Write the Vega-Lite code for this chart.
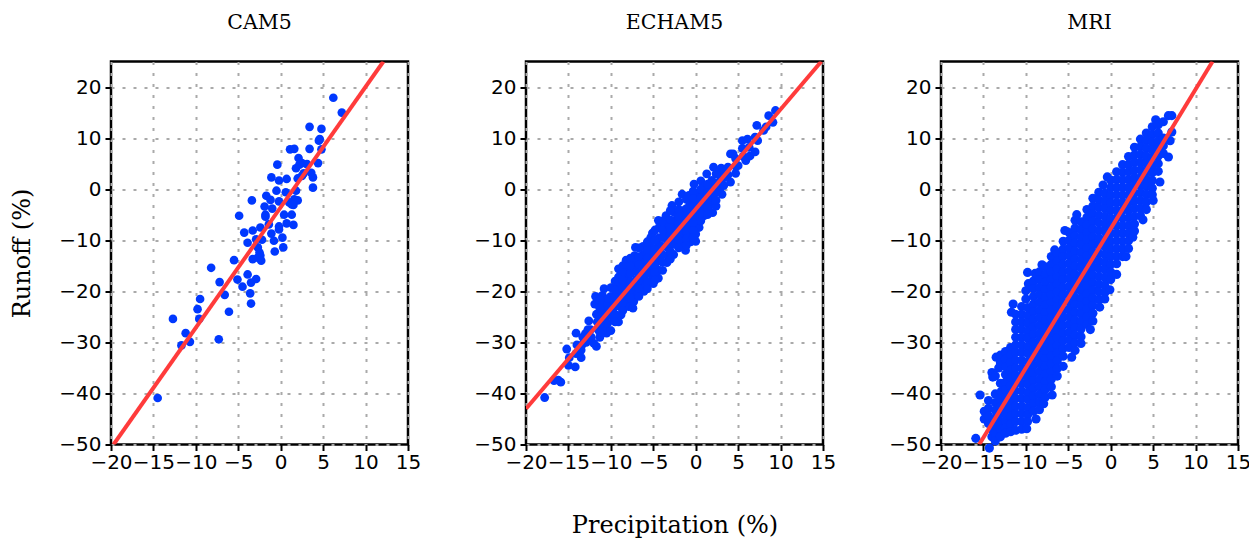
{"$schema":"https://vega.github.io/schema/vega-lite/v6.json","padding":{"left":9,"top":11.5,"right":0,"bottom":0},"bounds":"flush","spacing":118,
"config":{"view":{"stroke":"#000","strokeWidth":2.5},"title":{"font":"DejaVu Serif","fontSize":20.5,"fontWeight":"normal","color":"#000","offset":28},
"axisX":{"labelPadding":2},"axisY":{"labelPadding":4},
"axis":{"grid":true,"gridColor":"#aaa","gridDash":[3,8],"gridWidth":2,"domain":false,"tickColor":"#000","tickWidth":2,"tickSize":6,"labelFont":"DejaVu Sans","labelFontSize":20,"labelFontWeight":"normal","labelColor":"#000","labelFlush":false,"labelOverlap":false,"titleFont":"DejaVu Serif","titleFontSize":24,"titleFontWeight":"normal","titleColor":"#000"}},
"datasets":{
"cam":[{"p":6.2,"r":17.9},{"p":7.2,"r":15},{"p":3.4,"r":12.2},{"p":4.8,"r":11.8},{"p":4.5,"r":9.5},{"p":4.6,"r":9.8},{"p":4.8,"r":7.8},{"p":3.4,"r":7.9},{"p":1.1,"r":7.8},{"p":1.6,"r":7.9},{"p":2.1,"r":6.1},{"p":-0.4,"r":4.8},{"p":4.4,"r":5.1},{"p":2.5,"r":5.1},{"p":3.1,"r":4.9},{"p":1.8,"r":4.1},{"p":2.2,"r":4.8},{"p":3.6,"r":3.2},{"p":2.7,"r":3.1},{"p":3.8,"r":2.3},{"p":-1.1,"r":2.3},{"p":-0.2,"r":1.7},{"p":0.7,"r":2},{"p":2,"r":2.1},{"p":2.5,"r":2.6},{"p":3.8,"r":0.3},{"p":-0.5,"r":-0.3},{"p":0.6,"r":-0.6},{"p":1.8,"r":-0.3},{"p":-1.7,"r":-1.3},{"p":-1.2,"r":-2.1},{"p":-3.4,"r":-2.2},{"p":-0.2,"r":-2.4},{"p":2,"r":-2.2},{"p":1.6,"r":-2},{"p":1.3,"r":-3},{"p":1,"r":-2.6},{"p":1.5,"r":-3.1},{"p":-1.9,"r":-3.4},{"p":-1,"r":-3.8},{"p":-4.9,"r":-5.2},{"p":-1.8,"r":-5},{"p":0.4,"r":-5},{"p":1.3,"r":-5},{"p":-1.8,"r":-5.4},{"p":-1.4,"r":-6.9},{"p":0.7,"r":-6.7},{"p":1.5,"r":-7},{"p":-0.2,"r":-7.3},{"p":-2.4,"r":-7.5},{"p":-3.3,"r":-8.1},{"p":-0.2,"r":-7.9},{"p":-4.3,"r":-8.5},{"p":-1.1,"r":-8.7},{"p":0.2,"r":-9.5},{"p":-2.9,"r":-9.8},{"p":-2.2,"r":-9.9},{"p":-0.8,"r":-10.1},{"p":-3.9,"r":-10.5},{"p":-2.7,"r":-11.4},{"p":0.3,"r":-11.4},{"p":-0.7,"r":-12.2},{"p":-2.5,"r":-12.4},{"p":-2.4,"r":-13},{"p":-2.7,"r":-13.4},{"p":-3.3,"r":-13.7},{"p":-2.3,"r":-14},{"p":-5.5,"r":-13.9},{"p":-8.2,"r":-15.4},{"p":-3.9,"r":-16.7},{"p":-5.1,"r":-17.7},{"p":-2.9,"r":-17.6},{"p":-3.5,"r":-18.3},{"p":-7.2,"r":-18.2},{"p":-4.5,"r":-19.1},{"p":-3.6,"r":-20.4},{"p":-6.6,"r":-20.7},{"p":-9.5,"r":-21.5},{"p":-3.5,"r":-22.4},{"p":-9.8,"r":-23.5},{"p":-6.1,"r":-24},{"p":-12.7,"r":-25.4},{"p":-9.6,"r":-25.4},{"p":-11.2,"r":-28.2},{"p":-7.3,"r":-29.4},{"p":-10.7,"r":-29.9},{"p":-11.7,"r":-30.6},{"p":-14.5,"r":-40.9}],
"ech":[{"p":-17.8,"r":-40.8},{"p":-16.7,"r":-37.5},{"p":-16.2,"r":-37.4},{"p":-15.9,"r":-37.8},{"p":-15.2,"r":-31.3},{"p":-15,"r":-34.5},{"p":-14.9,"r":-33},{"p":-14.2,"r":-34.8},{"p":-14.1,"r":-28.2},{"p":-14,"r":-30.5},{"p":-14.1,"r":-32.2},{"p":-13.5,"r":-33},{"p":-13.3,"r":-29},{"p":-13.4,"r":-30.5},{"p":-13,"r":-28.3},{"p":-12.9,"r":-30},{"p":-12.6,"r":-25.8},{"p":-12.4,"r":-27.5},{"p":-12.3,"r":-29},{"p":-11.7,"r":-30.8},{"p":-12,"r":-30.2},{"p":-11.8,"r":-21},{"p":-11.9,"r":-22.5},{"p":-11.7,"r":-24.5},{"p":-11.6,"r":-26},{"p":-11.5,"r":-27.5},{"p":-11.3,"r":-29},{"p":-11,"r":-20.8},{"p":-10.9,"r":-22.5},{"p":-10.8,"r":-24},{"p":-10.7,"r":-25.5},{"p":-10.6,"r":-27},{"p":-10.5,"r":-28.2},{"p":-10.8,"r":-19.5},{"p":-10,"r":-27.7},{"p":-10,"r":-19.3},{"p":-10,"r":-21},{"p":-9.9,"r":-22.6},{"p":-9.8,"r":-24.2},{"p":-9.7,"r":-25.7},{"p":-9.1,"r":-15.6},{"p":-9.1,"r":-17.2},{"p":-9.2,"r":-18.5},{"p":-9,"r":-20},{"p":-9,"r":-21.5},{"p":-8.9,"r":-23},{"p":-8.8,"r":-24.6},{"p":-9.1,"r":-26},{"p":-8.2,"r":-13.9},{"p":-8.3,"r":-15.5},{"p":-8.2,"r":-17},{"p":-8.1,"r":-18.6},{"p":-8.1,"r":-20.1},{"p":-8,"r":-21.6},{"p":-7.9,"r":-23},{"p":-7.1,"r":-11.4},{"p":-7.2,"r":-13},{"p":-7.1,"r":-14.5},{"p":-7.1,"r":-16},{"p":-7,"r":-17.6},{"p":-7,"r":-19},{"p":-7,"r":-20.5},{"p":-7.4,"r":-23.3},{"p":-7.3,"r":-22},{"p":-6.2,"r":-11.2},{"p":-6.2,"r":-12.8},{"p":-6.2,"r":-14.3},{"p":-6.1,"r":-15.8},{"p":-6.1,"r":-17.3},{"p":-6.1,"r":-18.8},{"p":-6.1,"r":-20},{"p":-5.3,"r":-9.5},{"p":-5.1,"r":-8.6},{"p":-5.3,"r":-11},{"p":-5.2,"r":-12.6},{"p":-5.2,"r":-14},{"p":-5.2,"r":-15.6},{"p":-5.1,"r":-17},{"p":-5,"r":-18.5},{"p":-4.4,"r":-6.1},{"p":-4.3,"r":-7.5},{"p":-4.3,"r":-9.5},{"p":-4.3,"r":-11},{"p":-4.3,"r":-12.5},{"p":-4.2,"r":-14},{"p":-4.4,"r":-15.8},{"p":-4.4,"r":-17.4},{"p":-3.5,"r":-5.2},{"p":-3.4,"r":-6.8},{"p":-3.4,"r":-8.3},{"p":-3.4,"r":-9.8},{"p":-3.3,"r":-11.4},{"p":-3.3,"r":-13},{"p":-3.4,"r":-14.4},{"p":-2.8,"r":-3.2},{"p":-2.5,"r":-4.6},{"p":-2.5,"r":-6.2},{"p":-2.5,"r":-7.7},{"p":-2.5,"r":-9.3},{"p":-2.5,"r":-10.8},{"p":-2.6,"r":-12.8},{"p":-1.6,"r":-1},{"p":-0.8,"r":-1.2},{"p":-1.5,"r":-4.2},{"p":-1.6,"r":-5.6},{"p":-1.6,"r":-7.2},{"p":-1.6,"r":-8.7},{"p":-1.6,"r":-10.2},{"p":-1.2,"r":-12},{"p":-1.4,"r":-11.2},{"p":-0.7,"r":-3},{"p":-0.7,"r":-4.6},{"p":-0.7,"r":-6},{"p":-0.7,"r":-7.6},{"p":-0.7,"r":-9},{"p":-0.6,"r":-10.3},{"p":-0.2,"r":1},{"p":0.1,"r":-1},{"p":0.1,"r":-2.6},{"p":0.1,"r":-4.2},{"p":0.1,"r":-5.8},{"p":0.1,"r":-7.3},{"p":0,"r":-10.2},{"p":0.4,"r":-7.5},{"p":0,"r":-8.8},{"p":0.6,"r":1.6},{"p":1,"r":0.5},{"p":1,"r":-1},{"p":1,"r":-2.5},{"p":1,"r":-4},{"p":1,"r":-5.2},{"p":0.6,"r":-6.2},{"p":1.3,"r":3},{"p":1.9,"r":1.7},{"p":1.9,"r":0.1},{"p":1.9,"r":-1.5},{"p":1.9,"r":-3},{"p":2,"r":-4.6},{"p":2.1,"r":4.3},{"p":2.8,"r":3},{"p":2.8,"r":1.5},{"p":2.8,"r":0},{"p":3.1,"r":-1},{"p":2.4,"r":-3.3},{"p":3,"r":4.1},{"p":3.8,"r":4.3},{"p":3.8,"r":2.8},{"p":4.1,"r":1.4},{"p":4.1,"r":6.9},{"p":4.7,"r":6},{"p":4.7,"r":4.5},{"p":4.7,"r":3.1},{"p":4.4,"r":6.9},{"p":5.5,"r":9.5},{"p":5.5,"r":8},{"p":5.6,"r":6.4},{"p":5,"r":4.6},{"p":5.9,"r":5.6},{"p":6.1,"r":9.8},{"p":6.3,"r":8.2},{"p":6.4,"r":6.5},{"p":7,"r":7.3},{"p":7.2,"r":12.5},{"p":7,"r":10.2},{"p":7.3,"r":9.5},{"p":8.6,"r":14.4},{"p":9.4,"r":15.4},{"p":9.1,"r":13.1},{"p":8.3,"r":12.2},{"p":8,"r":11.5},
{"p":-10.4,"r":-21.5},{"p":-10.4,"r":-23},{"p":-10.4,"r":-24.7},{"p":-10.4,"r":-26.3},{"p":-9.5,"r":-18},{"p":-9.5,"r":-19.8},{"p":-9.5,"r":-21.3},{"p":-9.5,"r":-22.9},{"p":-9.5,"r":-24.5},{"p":-9.5,"r":-26},{"p":-8.6,"r":-15},{"p":-8.6,"r":-16.3},{"p":-8.6,"r":-17.8},{"p":-8.6,"r":-19.4},{"p":-8.6,"r":-20.8},{"p":-8.6,"r":-22.3},{"p":-8.6,"r":-23.8},{"p":-7.7,"r":-13.5},{"p":-7.7,"r":-15},{"p":-7.7,"r":-16.6},{"p":-7.7,"r":-18.2},{"p":-7.7,"r":-19.8},{"p":-7.7,"r":-21.3},{"p":-6.7,"r":-11.5},{"p":-6.7,"r":-13.2},{"p":-6.7,"r":-14.8},{"p":-6.7,"r":-16.4},{"p":-6.7,"r":-17.9},{"p":-6.7,"r":-19.5},{"p":-6.7,"r":-21},{"p":-5.7,"r":-10.3},{"p":-5.7,"r":-12},{"p":-5.7,"r":-13.5},{"p":-5.7,"r":-15},{"p":-5.7,"r":-16.5},{"p":-5.7,"r":-18.1},{"p":-5.7,"r":-19.5},{"p":-4.8,"r":-8},{"p":-4.8,"r":-10},{"p":-4.8,"r":-11.8},{"p":-4.8,"r":-13.3},{"p":-4.8,"r":-14.8},{"p":-4.8,"r":-16.3},{"p":-4.8,"r":-17.8},{"p":-3.9,"r":-6.2},{"p":-3.9,"r":-8},{"p":-3.9,"r":-9.5},{"p":-3.9,"r":-11.2},{"p":-3.9,"r":-12.8},{"p":-3.9,"r":-14.3},{"p":-3.9,"r":-15.9},{"p":-3,"r":-4.2},{"p":-3,"r":-6},{"p":-3,"r":-7.5},{"p":-3,"r":-9},{"p":-3,"r":-10.6},{"p":-3,"r":-12.2},{"p":-3,"r":-13.7},{"p":-2,"r":-2.5},{"p":-2,"r":-4},{"p":-2,"r":-5.4},{"p":-2,"r":-7},{"p":-2,"r":-8.5},{"p":-2,"r":-10},{"p":-2,"r":-11.5},{"p":-1.1,"r":-2},{"p":-1.1,"r":-3.8},{"p":-1.1,"r":-5.3},{"p":-1.1,"r":-6.8},{"p":-1.1,"r":-8.3},{"p":-1.1,"r":-9.8},{"p":-1.1,"r":-11},{"p":-0.3,"r":-0.4},{"p":-0.3,"r":-1.8},{"p":-0.3,"r":-3.4},{"p":-0.3,"r":-5},{"p":-0.3,"r":-6.6},{"p":-0.3,"r":-8.1},{"p":-0.3,"r":-9.5},{"p":0.6,"r":0},{"p":0.6,"r":-1.7},{"p":0.6,"r":-3.2},{"p":0.6,"r":-4.7},{"p":1.4,"r":1},{"p":1.4,"r":-0.7},{"p":1.4,"r":-2.2},{"p":1.4,"r":-3.7},{"p":1.4,"r":-5},{"p":2.4,"r":3},{"p":2.4,"r":1},{"p":2.4,"r":-0.7},{"p":2.4,"r":-2.2},{"p":3.3,"r":3.5},{"p":3.3,"r":2.2},{"p":3.3,"r":0.7},{"p":-11.3,"r":-21.7},{"p":-11.3,"r":-23.3},{"p":-11.3,"r":-25},{"p":-11.3,"r":-26.5},{"p":-11.3,"r":-28},{"p":-12.7,"r":-27.5},{"p":-13.5,"r":-31.5},{"p":-12.7,"r":-29.5}],
"mri":[{"p":-15.9,"r":-48.8},{"p":-15.4,"r":-40.3},{"p":-14.9,"r":-43.5},{"p":-14.9,"r":-45},{"p":-14.4,"r":-41.4},{"p":-14.4,"r":-42.9},{"p":-14.4,"r":-44.4},{"p":-14.4,"r":-45.9},{"p":-14.3,"r":-50.7},{"p":-14,"r":-48.5},{"p":-14,"r":-47},{"p":-14,"r":-35.9},{"p":-13.9,"r":-36.8},{"p":-13.5,"r":-32.9},{"p":-13.2,"r":-35},{"p":-13.6,"r":-36.6},{"p":-13.6,"r":-40.1},{"p":-13.6,"r":-41.8},{"p":-13.6,"r":-43.3},{"p":-13.6,"r":-44.8},{"p":-13.6,"r":-46.3},{"p":-13.6,"r":-47.8},{"p":-13.6,"r":-49.3},{"p":-13,"r":-32.5},{"p":-13,"r":-34},{"p":-13,"r":-38},{"p":-12.9,"r":-39.6},{"p":-13,"r":-41},{"p":-13,"r":-42.5},{"p":-13,"r":-44},{"p":-13,"r":-45.5},{"p":-13,"r":-47},{"p":-13,"r":-48.5},
{"p":-12.4,"r":-31.8},{"p":-12.4,"r":-33.3},{"p":-12.4,"r":-34.8},{"p":-12.4,"r":-36.3},{"p":-12.4,"r":-37.8},{"p":-12.4,"r":-39.3},{"p":-12.4,"r":-40.8},{"p":-12.4,"r":-42.3},{"p":-12.4,"r":-43.8},{"p":-12.4,"r":-45.3},{"p":-12.4,"r":-46.8},{"p":-12.4,"r":-47.8},
{"p":-11.8,"r":-31},{"p":-11.8,"r":-32.5},{"p":-11.8,"r":-34},{"p":-11.8,"r":-35.5},{"p":-11.8,"r":-37},{"p":-11.8,"r":-38.5},{"p":-11.8,"r":-40},{"p":-11.8,"r":-41.5},{"p":-11.8,"r":-43},{"p":-11.8,"r":-44.5},{"p":-11.8,"r":-46},{"p":-11.8,"r":-47.5},{"p":-11.5,"r":-22.5},{"p":-11.7,"r":-24.1},
{"p":-11.2,"r":-24.5},{"p":-11.2,"r":-26},{"p":-11.2,"r":-27.5},{"p":-11.2,"r":-29},{"p":-11.2,"r":-30.5},{"p":-11.2,"r":-32},{"p":-11.2,"r":-33.5},{"p":-11.2,"r":-35},{"p":-11.2,"r":-36.5},{"p":-11.2,"r":-38},{"p":-11.2,"r":-39.5},{"p":-11.2,"r":-41},{"p":-11.2,"r":-42.5},{"p":-11.2,"r":-44},{"p":-11.2,"r":-45.5},{"p":-11.2,"r":-47.2},
{"p":-10.5,"r":-23},{"p":-10.5,"r":-24.5},{"p":-10.5,"r":-26},{"p":-10.5,"r":-27.5},{"p":-10.5,"r":-29},{"p":-10.5,"r":-30.5},{"p":-10.5,"r":-32},{"p":-10.5,"r":-33.5},{"p":-10.5,"r":-35},{"p":-10.5,"r":-36.5},{"p":-10.5,"r":-38},{"p":-10.5,"r":-39.5},{"p":-10.5,"r":-41},{"p":-10.5,"r":-42.5},{"p":-10.5,"r":-44},{"p":-10.5,"r":-45.5},{"p":-10.5,"r":-47},
{"p":-10,"r":-19.9},{"p":-10,"r":-21.5},{"p":-9.8,"r":-16.3},{"p":-9.7,"r":-18.5},{"p":-9.8,"r":-23.2},{"p":-9.8,"r":-24.8},{"p":-9.8,"r":-26.2},{"p":-9.8,"r":-27.8},{"p":-9.8,"r":-29.2},{"p":-9.8,"r":-30.8},{"p":-9.8,"r":-32.2},{"p":-9.8,"r":-33.8},{"p":-9.8,"r":-35.2},{"p":-9.8,"r":-36.8},{"p":-9.8,"r":-38.2},{"p":-9.8,"r":-39.8},{"p":-9.8,"r":-41.2},{"p":-9.8,"r":-42.8},{"p":-9.8,"r":-44.2},{"p":-9.8,"r":-45.5},{"p":-9.9,"r":-46.9},
{"p":-9.1,"r":-18},{"p":-9.1,"r":-19.5},{"p":-9.1,"r":-21},{"p":-9.1,"r":-22.5},{"p":-9.1,"r":-24},{"p":-9.1,"r":-25.5},{"p":-9.1,"r":-27},{"p":-9.1,"r":-28.5},{"p":-9.1,"r":-30},{"p":-9.1,"r":-31.5},{"p":-9.1,"r":-33},{"p":-9.1,"r":-34.5},{"p":-9.1,"r":-36},{"p":-9.1,"r":-37.5},{"p":-9.1,"r":-39},{"p":-9.1,"r":-40.5},{"p":-9.1,"r":-42},{"p":-9.1,"r":-43.5},{"p":-8.8,"r":-45},{"p":-8.9,"r":-16.5},
{"p":-8.4,"r":-16.2},{"p":-8.4,"r":-17.7},{"p":-8.4,"r":-19.2},{"p":-8.4,"r":-20.7},{"p":-8.4,"r":-22.2},{"p":-8.4,"r":-23.7},{"p":-8.4,"r":-25.2},{"p":-8.4,"r":-26.7},{"p":-8.4,"r":-28.2},{"p":-8.4,"r":-29.7},{"p":-8.4,"r":-31.2},{"p":-8.4,"r":-32.7},{"p":-8.4,"r":-34.2},{"p":-8.4,"r":-35.7},{"p":-8.4,"r":-37.2},{"p":-8.4,"r":-38.7},{"p":-8.4,"r":-40.2},{"p":-8.4,"r":-41.7},{"p":-8.4,"r":-43.2},{"p":-8.1,"r":-14.8},
{"p":-7.7,"r":-15.2},{"p":-7.7,"r":-16.7},{"p":-7.7,"r":-18.2},{"p":-7.7,"r":-19.7},{"p":-7.7,"r":-21.2},{"p":-7.7,"r":-22.7},{"p":-7.7,"r":-24.2},{"p":-7.7,"r":-25.7},{"p":-7.7,"r":-27.2},{"p":-7.7,"r":-28.7},{"p":-7.7,"r":-30.2},{"p":-7.7,"r":-31.7},{"p":-7.7,"r":-33.2},{"p":-7.7,"r":-34.7},{"p":-7.7,"r":-36.2},{"p":-7.7,"r":-37.7},{"p":-7.7,"r":-39.2},{"p":-7.9,"r":-42},{"p":-7.7,"r":-40.7},
{"p":-7,"r":-13.2},{"p":-7,"r":-14.7},{"p":-7,"r":-16.2},{"p":-7,"r":-17.7},{"p":-7,"r":-19.2},{"p":-7,"r":-20.7},{"p":-7,"r":-22.2},{"p":-7,"r":-23.7},{"p":-7,"r":-25.2},{"p":-7,"r":-26.7},{"p":-7,"r":-28.2},{"p":-7,"r":-29.7},{"p":-7,"r":-31.2},{"p":-7,"r":-32.7},{"p":-7,"r":-34.2},{"p":-7,"r":-35.7},{"p":-7,"r":-37.2},{"p":-7,"r":-38.7},{"p":-6.9,"r":-40.3},
{"p":-6.6,"r":-11.9},{"p":-6.3,"r":-12.6},{"p":-6.3,"r":-14.1},{"p":-6.3,"r":-15.6},{"p":-6.3,"r":-17.1},{"p":-6.3,"r":-18.6},{"p":-6.3,"r":-20.1},{"p":-6.3,"r":-21.6},{"p":-6.3,"r":-23.1},{"p":-6.3,"r":-24.6},{"p":-6.3,"r":-26.1},{"p":-6.3,"r":-27.6},{"p":-6.3,"r":-29.1},{"p":-6.3,"r":-30.6},{"p":-6.3,"r":-32.1},{"p":-6.3,"r":-33.6},{"p":-6.3,"r":-35.1},{"p":-6.3,"r":-36.6},
{"p":-5.6,"r":-10.2},{"p":-5.6,"r":-11.7},{"p":-5.6,"r":-13.2},{"p":-5.6,"r":-14.7},{"p":-5.6,"r":-16.2},{"p":-5.6,"r":-17.7},{"p":-5.6,"r":-19.2},{"p":-5.6,"r":-20.7},{"p":-5.6,"r":-22.2},{"p":-5.6,"r":-23.7},{"p":-5.6,"r":-25.2},{"p":-5.6,"r":-26.7},{"p":-5.6,"r":-28.2},{"p":-5.6,"r":-29.7},{"p":-5.6,"r":-31.2},{"p":-5.6,"r":-32.7},{"p":-5.6,"r":-34.7},{"p":-5.4,"r":-8.1},
{"p":-4.9,"r":-8.5},{"p":-4.9,"r":-10},{"p":-4.9,"r":-11.5},{"p":-4.9,"r":-13},{"p":-4.9,"r":-14.5},{"p":-4.9,"r":-16},{"p":-4.9,"r":-17.5},{"p":-4.9,"r":-19},{"p":-4.9,"r":-20.5},{"p":-4.9,"r":-22},{"p":-4.9,"r":-23.5},{"p":-4.9,"r":-25},{"p":-4.9,"r":-26.5},{"p":-4.9,"r":-28},{"p":-4.9,"r":-29.5},{"p":-4.9,"r":-31},{"p":-4.6,"r":-32.9},
{"p":-4.2,"r":-6.1},{"p":-4,"r":-5},{"p":-4.2,"r":-7.6},{"p":-4.2,"r":-9.1},{"p":-4.2,"r":-10.6},{"p":-4.2,"r":-12.1},{"p":-4.2,"r":-13.6},{"p":-4.2,"r":-15.1},{"p":-4.2,"r":-16.6},{"p":-4.2,"r":-18.1},{"p":-4.2,"r":-19.6},{"p":-4.2,"r":-21.1},{"p":-4.2,"r":-22.6},{"p":-4.2,"r":-24.1},{"p":-4.2,"r":-25.6},{"p":-4.2,"r":-27.1},{"p":-4.2,"r":-28.6},{"p":-4.2,"r":-30.1},{"p":-4.2,"r":-31.6},
{"p":-3.5,"r":-6.4},{"p":-3.5,"r":-7.9},{"p":-3.5,"r":-9.4},{"p":-3.5,"r":-10.9},{"p":-3.5,"r":-12.4},{"p":-3.5,"r":-13.9},{"p":-3.5,"r":-15.4},{"p":-3.5,"r":-16.9},{"p":-3.5,"r":-18.4},{"p":-3.5,"r":-19.9},{"p":-3.5,"r":-21.4},{"p":-3.5,"r":-22.9},{"p":-3.5,"r":-24.4},{"p":-3.5,"r":-25.9},{"p":-3.5,"r":-27.4},{"p":-3.5,"r":-28.9},{"p":-3.5,"r":-30.2},
{"p":-2.8,"r":-4},{"p":-2.8,"r":-5.5},{"p":-2.8,"r":-7},{"p":-2.8,"r":-8.5},{"p":-2.8,"r":-10},{"p":-2.8,"r":-11.5},{"p":-2.8,"r":-13},{"p":-2.8,"r":-14.5},{"p":-2.8,"r":-16},{"p":-2.8,"r":-17.5},{"p":-2.8,"r":-19},{"p":-2.8,"r":-20.5},{"p":-2.8,"r":-22},{"p":-2.8,"r":-23.5},{"p":-2.8,"r":-25},{"p":-2.8,"r":-26.5},{"p":-2.4,"r":-27.5},
{"p":-2.1,"r":-1.8},{"p":-2.1,"r":-3.3},{"p":-2.1,"r":-4.8},{"p":-2.1,"r":-6.3},{"p":-2.1,"r":-7.8},{"p":-2.1,"r":-9.3},{"p":-2.1,"r":-10.8},{"p":-2.1,"r":-12.3},{"p":-2.1,"r":-13.8},{"p":-2.1,"r":-15.3},{"p":-2.1,"r":-16.8},{"p":-2.1,"r":-18.3},{"p":-2.1,"r":-19.8},{"p":-2.1,"r":-21.3},{"p":-2.1,"r":-22.8},{"p":-2.1,"r":-24.3},{"p":-2.1,"r":-25.8},
{"p":-1.4,"r":-0.6},{"p":-1.4,"r":-2.1},{"p":-1.4,"r":-3.6},{"p":-1.4,"r":-5.1},{"p":-1.4,"r":-6.6},{"p":-1.4,"r":-8.1},{"p":-1.4,"r":-9.6},{"p":-1.4,"r":-11.1},{"p":-1.4,"r":-12.6},{"p":-1.4,"r":-14.1},{"p":-1.4,"r":-15.6},{"p":-1.4,"r":-17.1},{"p":-1.4,"r":-18.6},{"p":-1.4,"r":-20.1},{"p":-1.4,"r":-21.6},{"p":-1.3,"r":-23.1},
{"p":-0.9,"r":0.8},{"p":-0.4,"r":2.4},{"p":-0.7,"r":-0.8},{"p":-0.7,"r":-2.3},{"p":-0.7,"r":-3.8},{"p":-0.7,"r":-5.3},{"p":-0.7,"r":-6.8},{"p":-0.7,"r":-8.3},{"p":-0.7,"r":-9.8},{"p":-0.7,"r":-11.3},{"p":-0.7,"r":-12.8},{"p":-0.7,"r":-14.3},{"p":-0.7,"r":-15.8},{"p":-0.7,"r":-17.3},{"p":-0.7,"r":-18.8},{"p":-0.7,"r":-20.3},{"p":-0.7,"r":-21.5},
{"p":0,"r":1.8},{"p":0,"r":0.3},{"p":0,"r":-1.2},{"p":0,"r":-2.7},{"p":0,"r":-4.2},{"p":0,"r":-5.7},{"p":0,"r":-7.2},{"p":0,"r":-8.7},{"p":0,"r":-10.2},{"p":0,"r":-11.7},{"p":0,"r":-13.2},{"p":0,"r":-14.7},{"p":0,"r":-16.2},{"p":0,"r":-17.7},{"p":-0.1,"r":-19.7},
{"p":0.7,"r":3.4},{"p":0.7,"r":1.9},{"p":0.7,"r":0.4},{"p":0.7,"r":-1.1},{"p":0.7,"r":-2.6},{"p":0.7,"r":-4.1},{"p":0.7,"r":-5.6},{"p":0.7,"r":-7.1},{"p":0.7,"r":-8.6},{"p":0.7,"r":-10.1},{"p":0.7,"r":-11.6},{"p":0.7,"r":-13.1},{"p":0.7,"r":-14.6},{"p":0.7,"r":-16.7},
{"p":1.4,"r":4.8},{"p":1.4,"r":3.3},{"p":1.4,"r":1.8},{"p":1.4,"r":0.3},{"p":1.4,"r":-1.2},{"p":1.4,"r":-2.7},{"p":1.4,"r":-4.2},{"p":1.4,"r":-5.7},{"p":1.4,"r":-7.2},{"p":1.4,"r":-8.7},{"p":1.4,"r":-10.2},{"p":1.4,"r":-11.7},{"p":1.4,"r":-13.2},{"p":1.8,"r":-13.2},
{"p":2.1,"r":6.4},{"p":2.1,"r":4.9},{"p":2.1,"r":3.4},{"p":2.1,"r":1.9},{"p":2.1,"r":0.4},{"p":2.1,"r":-1.1},{"p":2.1,"r":-2.6},{"p":2.1,"r":-4.1},{"p":2.1,"r":-5.6},{"p":2.1,"r":-7.1},{"p":2.1,"r":-8.6},{"p":2.1,"r":-10.1},{"p":2.1,"r":-11.6},
{"p":2.8,"r":8.2},{"p":2.8,"r":6.7},{"p":2.8,"r":5.2},{"p":2.8,"r":3.7},{"p":2.8,"r":2.2},{"p":2.8,"r":0.7},{"p":2.8,"r":-0.8},{"p":2.8,"r":-2.3},{"p":2.8,"r":-3.8},{"p":2.8,"r":-5.3},{"p":2.8,"r":-6.8},{"p":2.6,"r":-9.4},{"p":2.8,"r":-8.2},
{"p":3.5,"r":9.8},{"p":3.5,"r":8.3},{"p":3.5,"r":6.8},{"p":3.5,"r":5.3},{"p":3.5,"r":3.8},{"p":3.5,"r":2.3},{"p":3.5,"r":0.8},{"p":3.5,"r":-0.7},{"p":3.5,"r":-2.2},{"p":3.5,"r":-3.7},{"p":3.5,"r":-5.2},{"p":3.8,"r":-6},
{"p":4.2,"r":11},{"p":4.2,"r":9.5},{"p":4.2,"r":8},{"p":4.2,"r":6.5},{"p":4.2,"r":5},{"p":4.2,"r":3.5},{"p":4.2,"r":2},{"p":4.2,"r":0.5},{"p":4.2,"r":-1},{"p":4.2,"r":-2.5},{"p":4.2,"r":-4},
{"p":4.9,"r":12.2},{"p":5.3,"r":13.6},{"p":4.9,"r":10.7},{"p":4.9,"r":9.2},{"p":4.9,"r":7.7},{"p":4.9,"r":6.2},{"p":4.9,"r":4.7},{"p":4.9,"r":3.2},{"p":4.9,"r":1.7},{"p":4.9,"r":0.2},{"p":5,"r":-2.2},{"p":4.9,"r":-1.1},
{"p":5.6,"r":12.6},{"p":5.6,"r":11},{"p":5.6,"r":9.5},{"p":5.6,"r":8},{"p":5.6,"r":6.5},{"p":5.6,"r":5},{"p":5.6,"r":3.5},{"p":5.8,"r":1.4},
{"p":6.2,"r":13.2},{"p":6.2,"r":10},{"p":6.2,"r":8.5},{"p":6.2,"r":7},{"p":6.8,"r":6.3},{"p":7,"r":9.5},{"p":6.8,"r":14.4},{"p":7.2,"r":14.4},{"p":7.2,"r":11.2}],
"lcam":[{"p":-19.7,"r":-50},{"p":12.1,"r":25}],"lech":[{"p":-20,"r":-43},{"p":14.8,"r":25}],"lmri":[{"p":-15.5,"r":-50},{"p":12,"r":25}]},
"hconcat":[
{"width":297,"height":383,"title":"CAM5","layer":[
{"data":{"name":"cam"},"mark":{"type":"point","filled":true,"opacity":1,"size":75,"color":"#0038ff"},"encoding":{"x":{"field":"p","type":"quantitative","scale":{"domain":[-20,15],"nice":false,"zero":false},"axis":{"values":[-20,-15,-10,-5,0,5,10,15],"title":null}},"y":{"field":"r","type":"quantitative","scale":{"domain":[-50,25],"nice":false,"zero":false},"axis":{"values":[-50,-40,-30,-20,-10,0,10,20],"title":"Runoff (%)","titlePadding":24}}}},
{"mark":{"type":"rule","color":"#000","strokeWidth":2},"encoding":{"y":{"datum":0}}},
{"mark":{"type":"rule","color":"#000","strokeWidth":2},"encoding":{"x":{"datum":0}}},
{"data":{"name":"lcam"},"mark":{"type":"line","color":"#ff3b3b","strokeWidth":4,"clip":true},"encoding":{"x":{"field":"p","type":"quantitative"},"y":{"field":"r","type":"quantitative"}}}]},
{"width":297,"height":383,"title":"ECHAM5","layer":[
{"data":{"name":"ech"},"mark":{"type":"point","filled":true,"opacity":1,"size":78,"color":"#0038ff"},"encoding":{"x":{"field":"p","type":"quantitative","scale":{"domain":[-20,15],"nice":false,"zero":false},"axis":{"values":[-20,-15,-10,-5,0,5,10,15],"title":"Precipitation (%)","titlePadding":41}},"y":{"field":"r","type":"quantitative","scale":{"domain":[-50,25],"nice":false,"zero":false},"axis":{"values":[-50,-40,-30,-20,-10,0,10,20],"title":null}}}},
{"mark":{"type":"rule","color":"#000","strokeWidth":2},"encoding":{"y":{"datum":0}}},
{"mark":{"type":"rule","color":"#000","strokeWidth":2},"encoding":{"x":{"datum":0}}},
{"data":{"name":"lech"},"mark":{"type":"line","color":"#ff3b3b","strokeWidth":4,"clip":true},"encoding":{"x":{"field":"p","type":"quantitative"},"y":{"field":"r","type":"quantitative"}}}]},
{"width":297,"height":383,"title":"MRI","layer":[
{"data":{"name":"mri"},"mark":{"type":"point","filled":true,"opacity":1,"size":84,"color":"#0038ff"},"encoding":{"x":{"field":"p","type":"quantitative","scale":{"domain":[-20,15],"nice":false,"zero":false},"axis":{"values":[-20,-15,-10,-5,0,5,10,15],"title":null}},"y":{"field":"r","type":"quantitative","scale":{"domain":[-50,25],"nice":false,"zero":false},"axis":{"values":[-50,-40,-30,-20,-10,0,10,20],"title":null}}}},
{"mark":{"type":"rule","color":"#000","strokeWidth":2},"encoding":{"y":{"datum":0}}},
{"mark":{"type":"rule","color":"#000","strokeWidth":2},"encoding":{"x":{"datum":0}}},
{"data":{"name":"lmri"},"mark":{"type":"line","color":"#ff3b3b","strokeWidth":4,"clip":true},"encoding":{"x":{"field":"p","type":"quantitative"},"y":{"field":"r","type":"quantitative"}}}]}
],"resolve":{"scale":{"x":"independent","y":"independent"}}}
